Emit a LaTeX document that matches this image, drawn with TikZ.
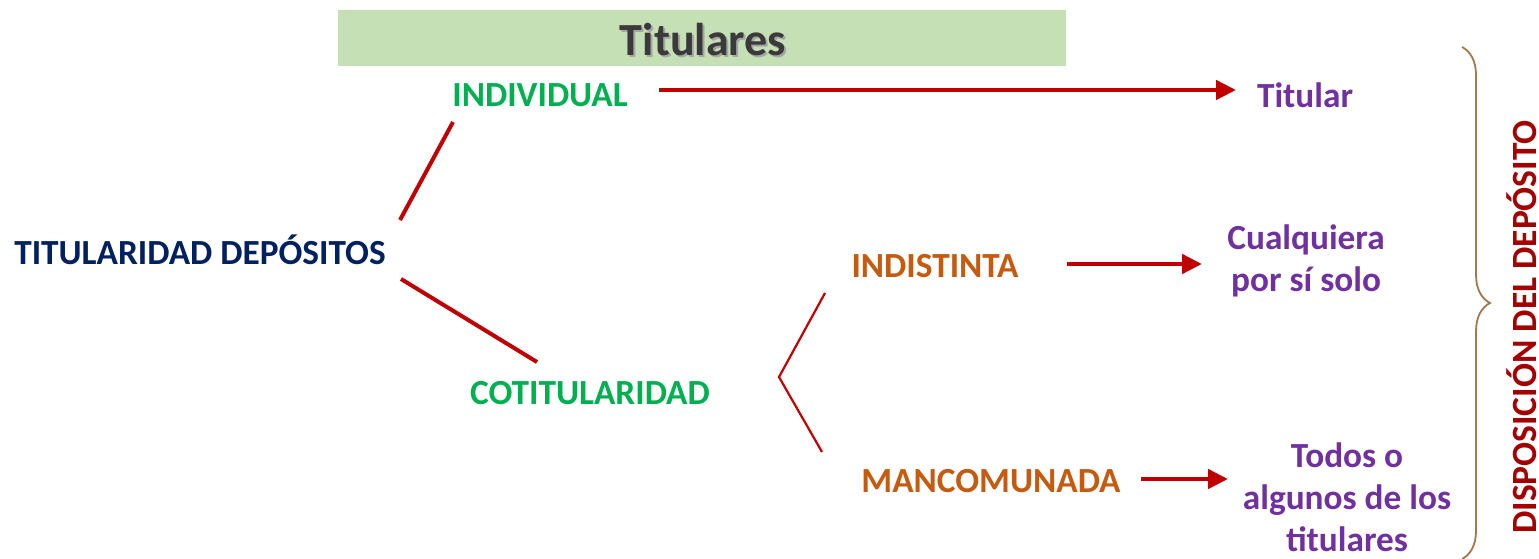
\documentclass[tikz,border=0pt]{standalone}
\usepackage{fontspec}
\setmainfont{Carlito}
\usetikzlibrary{arrows.meta,decorations.pathreplacing}
\definecolor{titlebg}{HTML}{C5E0B4}
\definecolor{titlefg}{HTML}{3A3A3A}
\definecolor{grn}{HTML}{00B050}
\definecolor{navy}{HTML}{002060}
\definecolor{orng}{HTML}{C55A11}
\definecolor{purp}{HTML}{7030A0}
\definecolor{dred}{HTML}{C00000}
\definecolor{vred}{HTML}{A50000}
\definecolor{brc}{HTML}{A5774E}
\tikzset{
  lbl/.style={font=\fontsize{35.3}{42}\selectfont\bfseries, inner sep=0pt, align=center},
  branch/.style={draw=dred, line width=4pt},
  thinbranch/.style={draw=dred, line width=2.2pt},
  arr/.style={draw=dred, line width=4.5pt, -{Triangle[length=20pt,width=19pt]}},
}
\begin{document}
\begin{tikzpicture}[x=1pt,y=-1pt]
\useasboundingbox (0,0) rectangle (1539,559);
% title
\node[fill=titlebg, minimum width=728pt, minimum height=56pt, inner sep=0pt] (title) at (702,38) {};
\node[font=\fontsize{46}{50}\selectfont\bfseries, text=black!35, inner sep=0pt] (titshadow) at (705,42) {Titulares};
\node[font=\fontsize{46}{50}\selectfont\bfseries, text=titlefg, inner sep=0pt] (tit) at (703,40) {Titulares};
% labels
\node[lbl, text=navy] (root) at (200,250) {TITULARIDAD DEPÓSITOS};
\node[lbl, text=grn] (ind) at (540,95) {INDIVIDUAL};
\node[lbl, text=grn] (cot) at (590,393) {COTITULARIDAD};
\node[lbl, text=orng] (indis) at (935,266) {INDISTINTA};
\node[lbl, text=orng] (manc) at (991,481) {MANCOMUNADA};
\node[lbl, text=purp] (titular) at (1305,95) {Titular};
\node[lbl, text=purp] (cual) at (1306,261) {Cualquiera\\por sí solo};
\node[lbl, text=purp] (todos) at (1347,497) {Todos o\\algunos de los\\titulares};
\node[font=\fontsize{35.5}{40}\selectfont\bfseries, text=vred, inner sep=0pt, rotate=90] (disp) at (1522,327) {DISPOSICIÓN DEL DEPÓSITO};
% connectors
\coordinate (r1) at (400,220);
\coordinate (i1) at (453,122);
\coordinate (r2) at (401,279);
\coordinate (c1) at (537,362);
\draw[branch] (r1) -- (i1);
\draw[branch] (r2) -- (c1);
\coordinate (vt) at (825,293);
\coordinate (vv) at (779,377);
\coordinate (vb) at (822,452);
\draw[thinbranch] (vt) -- (vv) -- (vb);
\coordinate (a1s) at (659,90);
\coordinate (a1e) at (1236,90);
\draw[arr] (a1s) -- (a1e);
\coordinate (a2s) at (1067,264);
\coordinate (a2e) at (1202,264);
\draw[arr] (a2s) -- (a2e);
\coordinate (a3s) at (1141,479);
\coordinate (a3e) at (1228,479);
\draw[arr] (a3s) -- (a3e);
% brace
\coordinate (bt) at (1462,47);
\coordinate (bb) at (1462,559);
\draw[brc, line width=1.8pt, decorate, decoration={brace, amplitude=28pt, aspect=0.5}] (bt) -- (bb);
\end{tikzpicture}
\end{document}
